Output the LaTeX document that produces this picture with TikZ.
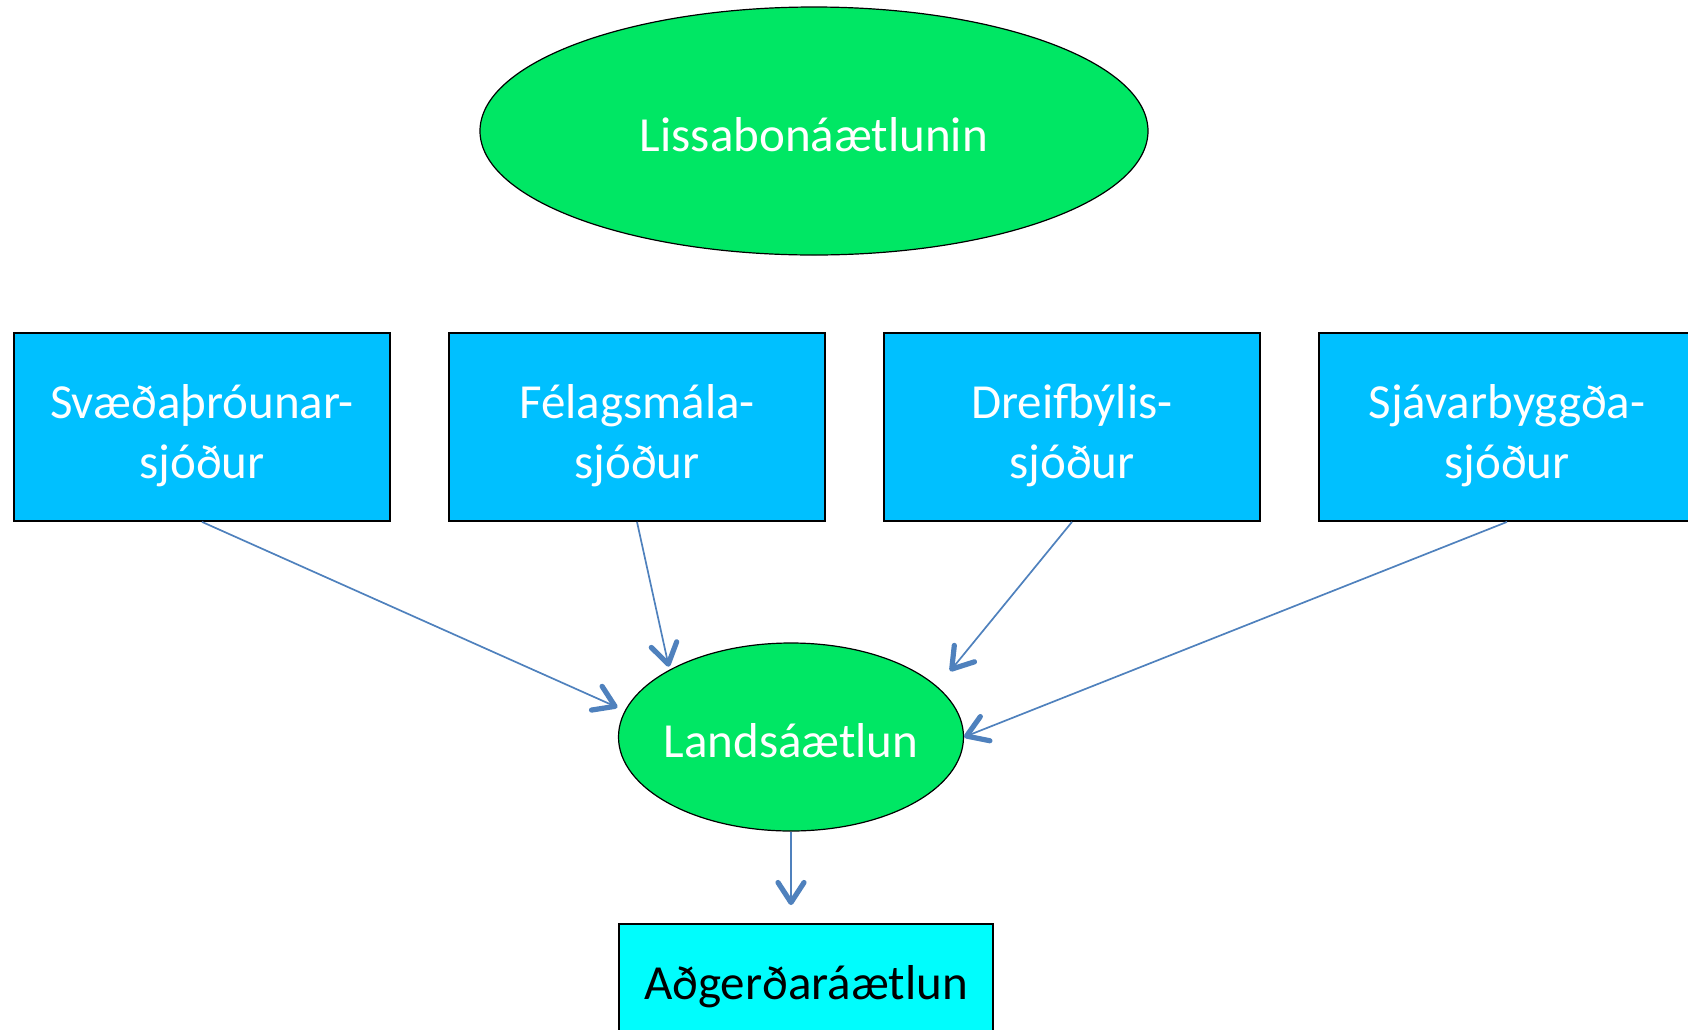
\documentclass[tikz,border=0pt]{standalone}
\usepackage{fontspec}
\setmainfont{Carlito}
\usetikzlibrary{shapes.geometric,arrows.meta}
\definecolor{planGreen}{RGB}{0,231,100}
\definecolor{fundBlue}{RGB}{0,192,255}
\definecolor{actCyan}{RGB}{0,253,253}
\definecolor{feedBlue}{RGB}{79,129,189}
\tikzset{
  fund/.style={draw=black,line width=0.9pt,fill=fundBlue,text=white,minimum width=188pt,minimum height=94pt,align=center,text height=51pt,text depth=0pt,font=\fontsize{24.5}{30}\selectfont},
  plan/.style={draw=black,line width=0.6pt,fill=planGreen,ellipse,inner sep=0pt,text=white,text height=22pt,text depth=2pt,font=\fontsize{24.5}{30}\selectfont},
  act/.style={draw=black,line width=0.9pt,fill=actCyan,text=black,minimum width=187pt,minimum height=63pt,font=\fontsize{24.5}{30}\selectfont}
}

\begin{document}
\begin{tikzpicture}[x=0.5pt,y=-0.5pt,>={Straight Barb[length=10pt,width=13pt,line width=2.6pt,round]}]
      \useasboundingbox (0,0) rectangle (1688,1029);
      \node[plan,minimum width=334pt,minimum height=124pt](L) at (814,131) {Lissabonáætlunin};
      \node[fund](S) at (202,427) {Svæðaþróunar-\\sjóður};
      \node[fund](F) at (637,427) {Félagsmála-\\sjóður};
      \node[fund](D) at (1072,427) {Dreifbýlis-\\sjóður};
      \node[fund](SJ) at (1507,427) {Sjávarbyggða-\\sjóður};
      \node[plan,minimum width=172.5pt,minimum height=94pt,inner xsep=-6pt](N) at (791,737) {Landsáætlun};
      \node[act](A) at (806,987) {Aðgerðaráætlun};
      \path[->,color=feedBlue,line width=0.85pt] (S.south) edge[shorten >=4pt] (N.171);
      \path[->,color=feedBlue,line width=0.85pt] (F.south) edge[shorten >=1.5pt] (N.151);
      \path[->,color=feedBlue,line width=0.85pt] (D.south) edge[shorten >=10pt] (N.19);
      \path[->,color=feedBlue,line width=0.85pt] (SJ.south) edge (N.east);
      \path[->,color=feedBlue,line width=0.85pt] (N.south) edge[shorten >=9pt] (N.south |- A.north);
    \end{tikzpicture}
\end{document}
